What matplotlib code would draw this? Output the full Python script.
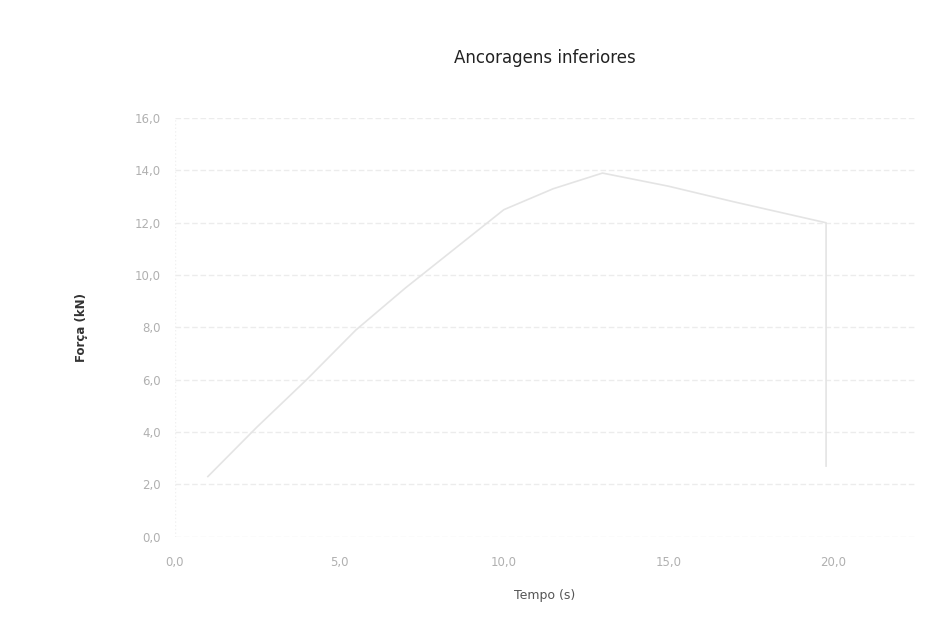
import matplotlib
matplotlib.use("Agg")
import matplotlib.pyplot as plt
from matplotlib.ticker import FuncFormatter

# dados (muito esbatido)
tempo = [1.0, 2.5, 4.0, 5.5, 7.0, 8.5, 10.0, 11.5, 13.0, 15.0, 17.0, 19.8, 19.8]
forca = [2.3, 4.2, 6.0, 7.9, 9.5, 11.0, 12.5, 13.3, 13.9, 13.4, 12.8, 12.0, 2.7]

x_ticks = [0, 5, 10, 15, 20]
y_ticks = [0, 2, 4, 6, 8, 10, 12, 14, 16]

fig = plt.figure(figsize=(9.51, 6.42), dpi=100)
ax = fig.add_axes([0.184, 0.164, 0.778, 0.652])

ax.plot(tempo, forca, color="#e4e4e4", lw=1.2)

ax.set_xlim(0, 22.5)
ax.set_ylim(0, 16)
ax.set_xticks(x_ticks)
ax.set_yticks(y_ticks)
fmt = FuncFormatter(lambda v, p: ("%.1f" % v).replace(".", ","))
ax.xaxis.set_major_formatter(fmt)
ax.yaxis.set_major_formatter(fmt)
ax.tick_params(length=0, labelsize=8.5, labelcolor="#b0b0b0")
ax.tick_params(axis="x", pad=14)
ax.tick_params(axis="y", pad=10)

ax.grid(axis="y", color="#ececec", lw=1, ls=(0, (4, 2)))
for s in ax.spines.values():
    s.set_visible(False)
ax.axvline(0, color="#f0f0f0", lw=1, ls=":")

ax.set_title("Ancoragens inferiores", fontsize=12, color="#222222", pad=40)
ax.set_xlabel("Tempo (s)", fontsize=9, color="#555555", labelpad=14)
ax.set_ylabel("Força (kN)", fontsize=8.5, color="#333333", fontweight="bold", labelpad=34)

fig.savefig("out.png", dpi=100)
